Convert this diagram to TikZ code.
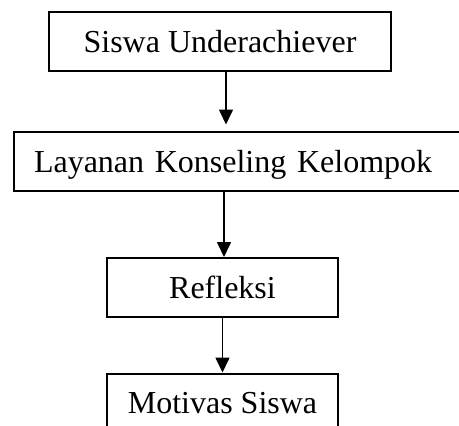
\documentclass[tikz,border=0pt]{standalone}
\usepackage{fontspec}
\setmainfont{Liberation Serif}
\usetikzlibrary{arrows.meta}
\usetikzlibrary{positioning}

\begin{document}
\begin{tikzpicture}[x=0.5pt,y=-0.5pt]
\tikzset{flowbox/.style={rectangle,draw,line width=1pt,minimum height=29.5pt,inner sep=0pt,text depth=0pt,font=\fontsize{16}{19}\selectfont}}
\tikzset{flowarrow/.style={line width=0.8pt,-{Triangle[width=7pt,length=7.5pt]}}}
\useasboundingbox (0,0) rectangle (459,425);
\clip (0,0) rectangle (459,425);
\node[flowbox,minimum width=171pt](siswa) at (220,41){Siswa Underachiever};
\node[flowbox,anchor=west,text width=210pt,inner xsep=10pt,align=left](layanan) at (13,161){Layanan Konseling Kelompok};
\node[flowbox,minimum width=115.5pt](refleksi) at (222.5,287.5){Refleksi};
\node[flowbox,minimum width=115.5pt](motivasi) at (222.5,403){Motivas Siswa};
\draw[flowarrow,shorten >=3pt]([xshift=3pt]siswa.south) -- ([xshift=3pt]siswa.south |- layanan.north);
\draw[flowarrow]([xshift=0.75pt]refleksi.north |- layanan.south) -- ([xshift=0.75pt]refleksi.north);
\draw[flowarrow](refleksi.south) -- (motivasi.north);
\end{tikzpicture}
\end{document}
